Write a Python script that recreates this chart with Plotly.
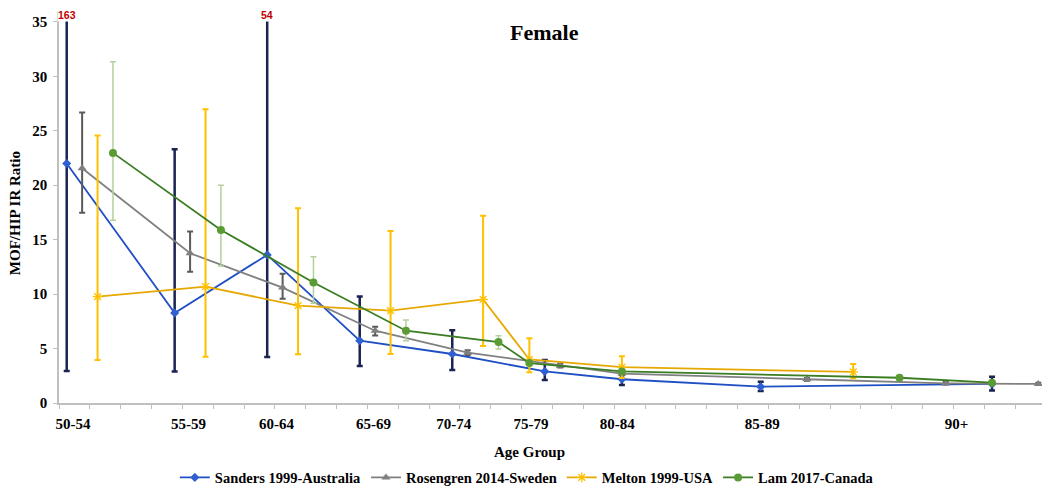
import plotly.graph_objects as go

# ---- data ----
age_labels = ["50-54", "55-59", "60-64", "65-69", "70-74", "75-79", "80-84", "85-89", "90+"]
age_label_pos = [0.45, 4.2, 7.05, 10.2, 12.8, 15.3, 18.1, 22.8, 29.1]

sanders_x = [0.25, 3.75, 6.75, 9.75, 12.75, 15.75, 18.25, 22.75, 30.25]
sanders_y = [22.0, 8.27, 13.6, 5.72, 4.5, 2.9, 2.18, 1.5, 1.75]
sanders_lo = [2.95, 2.9, 4.22, 3.4, 3.03, 2.11, 1.65, 1.1, 1.15]
sanders_hi = [163, 23.3, 54, 9.77, 6.68, 3.95, 2.6, 1.96, 2.42]

rosengren_x = [0.75, 4.25, 7.25, 10.25, 13.25, 16.25, 18.25, 24.25, 28.75, 31.75]
rosengren_y = [21.56, 13.75, 10.6, 6.64, 4.62, 3.43, 2.7, 2.18, 1.81, 1.75]
rosengren_lo = [17.48, 12.06, 9.58, 6.2, 4.4, 3.25, 2.55, 2.05, 1.7, 1.65]
rosengren_hi = [26.67, 15.74, 11.88, 7.0, 4.85, 3.6, 2.85, 2.3, 1.92, 1.85]

melton_x = [1.25, 4.75, 7.75, 10.75, 13.75, 15.25, 18.25, 25.75]
melton_y = [9.77, 10.69, 8.94, 8.48, 9.52, 4.0, 3.3, 2.85]
melton_lo = [3.95, 4.25, 4.47, 4.5, 5.24, 2.82, 2.3, 2.27]
melton_hi = [24.56, 26.98, 17.88, 15.8, 17.2, 5.94, 4.3, 3.58]

lam_x = [1.75, 5.25, 8.25, 11.25, 14.25, 15.25, 18.25, 27.25, 30.25]
lam_y = [22.97, 15.89, 11.07, 6.64, 5.6, 3.67, 2.9, 2.32, 1.87]
lam_lo = [16.78, 12.58, 9.16, 5.72, 4.96, 3.45, 2.7, 2.2, 1.75]
lam_hi = [31.35, 20.0, 13.44, 7.62, 6.18, 3.9, 3.1, 2.45, 2.0]

off_chart_labels = ["163", "54"]
off_chart_x = [sanders_x[0], sanders_x[2]]

SERIF = "Liberation Serif, Times New Roman, serif"

series = [
    ("Sanders 1999-Australia", sanders_x, sanders_y, sanders_lo, sanders_hi,
     "#1f4fc4", "#2f5fd0", "#1a2352", "diamond", 7, 2.5),
    ("Rosengren 2014-Sweden", rosengren_x, rosengren_y, rosengren_lo, rosengren_hi,
     "#808080", "#7f7f7f", "#5a5a5a", "triangle-up", 8, 2),
    ("Melton 1999-USA", melton_x, melton_y, melton_lo, melton_hi,
     "#e6a800", "#ffc000", "#ffc000", "asterisk-open", 8, 2),
    ("Lam 2017-Canada", lam_x, lam_y, lam_lo, lam_hi,
     "#3b7d23", "#5a9b35", "#b5cf9f", "circle", 8, 1.5),
]

fig = go.Figure()
for name, xs, ys, lo, hi, lcol, mcol, ecol, sym, msize, ew in series:
    marker = dict(symbol=sym, size=msize, color=mcol)
    if sym.endswith("open"):
        marker["line"] = dict(color=mcol, width=1.3)
    fig.add_trace(go.Scatter(
        x=xs, y=ys, name="<b>" + name + "</b>", mode="lines+markers",
        line=dict(color=lcol, width=1.8),
        marker=marker,
        error_y=dict(type="data", symmetric=False,
                     array=[h - v for h, v in zip(hi, ys)],
                     arrayminus=[v - l for v, l in zip(ys, lo)],
                     color=ecol, thickness=ew, width=3),
    ))

annotations = [
    dict(text="<b>Female</b>", x=0.4924, y=0.946, xref="paper", yref="paper",
         xanchor="center", yanchor="middle",
         showarrow=False, font=dict(family=SERIF, size=22, color="#000")),
    dict(text="<b>Age Group</b>", x=0.477, y=-0.125, xref="paper", yref="paper",
         xanchor="center", yanchor="middle",
         showarrow=False, font=dict(family=SERIF, size=15, color="#000")),
    dict(text="<b>MOF/HIP IR Ratio</b>", x=-0.0443, y=0.485, xref="paper", yref="paper",
         xanchor="center", yanchor="middle",
         textangle=-90, showarrow=False, font=dict(family=SERIF, size=15, color="#000")),
]
for lab, xv in zip(off_chart_labels, off_chart_x):
    annotations.append(dict(text="<b>" + lab + "</b>", x=xv, y=1.0, xref="x", yref="paper",
                            xanchor="center", yanchor="top", showarrow=False, yshift=3,
                            bgcolor="white", borderpad=0,
                            font=dict(family="Liberation Sans, Arial, sans-serif", size=10.5, color="#c00000")))

# page body adds an 8px offset; figure is sized so that the plot lands where the reference has it
fig.update_layout(
    width=1042, height=482,
    margin=dict(l=51, r=4, t=3, b=87, autoexpand=False),
    plot_bgcolor="white", paper_bgcolor="white",
    showlegend=True,
    legend=dict(orientation="h", x=0.474, xanchor="center", y=-0.19, yanchor="middle",
                font=dict(family=SERIF, size=14.5, color="#000"), itemwidth=30,
                tracegroupgap=0),
    annotations=annotations,
    xaxis=dict(range=[0, 32], showgrid=False, zeroline=False, automargin=False,
               showline=True, linecolor="#bfbfbf", linewidth=1.5,
               tickmode="array", tickvals=age_label_pos, ticktext=["<b>%s</b>" % a for a in age_labels],
               ticks="", ticklabelstandoff=6,
               tickfont=dict(family=SERIF, size=15, color="#000"),
               minor=dict(tickmode="linear", tick0=0, dtick=1, ticks="outside",
                          ticklen=4, tickcolor="#bfbfbf", tickwidth=1, showgrid=False)),
    yaxis=dict(range=[0, 36], showgrid=False, zeroline=False, automargin=False,
               showline=True, linecolor="#bfbfbf", linewidth=1.5,
               tickmode="array", tickvals=[0, 5, 10, 15, 20, 25, 30, 35],
               ticktext=["<b>%d</b>" % v for v in [0, 5, 10, 15, 20, 25, 30, 35]],
               ticks="outside", ticklen=4, tickcolor="#bfbfbf", ticklabelstandoff=3,
               tickfont=dict(family=SERIF, size=15, color="#000")),
)

fig.write_html("out.html")
